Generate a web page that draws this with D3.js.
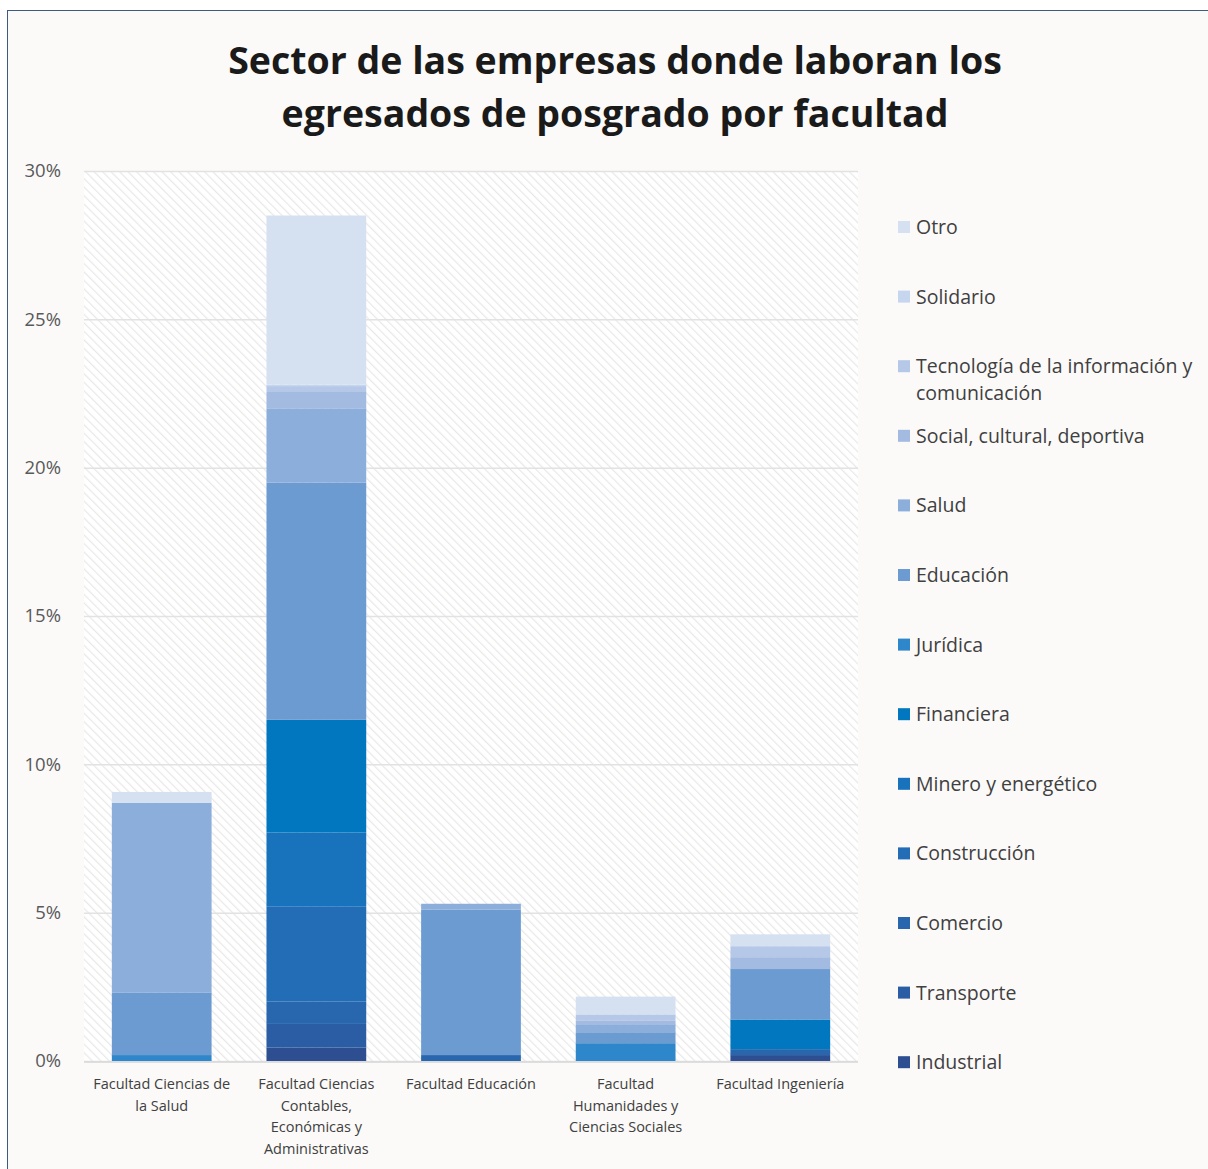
<!DOCTYPE html>
<html>
<head>
<meta charset="utf-8">
<script src="https://cdn.jsdelivr.net/npm/d3@7"></script>
<style>
  body { margin: 0; background: #fff; }
  text { font-family: "Open Sans", "Noto Sans", sans-serif; }
</style>
</head>
<body>
<div id="chart"></div>
<script>
// facultades (eje x)
const facultades = [
  ['Facultad Ciencias de', 'la Salud'],
  ['Facultad Ciencias', 'Contables,', 'Económicas y', 'Administrativas'],
  ['Facultad Educación'],
  ['Facultad', 'Humanidades y', 'Ciencias Sociales'],
  ['Facultad Ingeniería']
];
// sectores, de abajo hacia arriba
const sectores = ['Industrial', 'Transporte', 'Comercio', 'Construcción', 'Minero y energético',
  'Financiera', 'Jurídica', 'Educación', 'Salud', 'Social, cultural, deportiva',
  'Tecnología de la información y comunicación', 'Solidario', 'Otro'];
const colores = ['#2D4F92', '#2A5DA4', '#2866AE', '#226DB6', '#1973BC',
  '#0077BE', '#2E87CA', '#6C9BD2', '#8BAEDB', '#A3BBE1',
  '#B6C8E8', '#C7D6EF', '#D5E0F1'];
// porcentaje por sector (mismo orden que sectores), una lista por facultad
const salud = [0, 0, 0, 0, 0, 0, 0.2, 2.1, 6.4, 0, 0, 0, 0.37];
const contables = [0.45, 0.8, 0.75, 3.2, 2.5, 3.8, 0, 8.0, 2.5, 0.55, 0.2, 0.05, 5.7];
const educacion = [0, 0, 0.2, 0, 0, 0, 0, 4.9, 0.2, 0, 0, 0, 0];
const humanidades = [0, 0, 0, 0, 0, 0, 0.6, 0.37, 0.27, 0.13, 0.2, 0, 0.6];
const ingenieria = [0.2, 0, 0.2, 0, 0, 1.0, 0, 1.7, 0, 0.4, 0.37, 0, 0.4];
const yTicks = [0, 5, 10, 15, 20, 25, 30];

const series = [salud, contables, educacion, humanidades, ingenieria];
const W = 1208, H = 1169;
const margin = { left: 84, right: 350, top: 171, bottom: 108 };

const svg = d3.select('#chart').append('svg')
  .attr('width', W)
  .attr('height', H);

// marco
svg.append('rect')
  .attr('x', 7.5).attr('y', 10.5)
  .attr('width', W).attr('height', H)
  .attr('fill', '#FBFAF9')
  .attr('stroke', '#3D5A80')
  .attr('stroke-width', 1);

// trama diagonal del fondo
const defs = svg.append('defs');
const pat = defs.append('pattern')
  .attr('id', 'hatch')
  .attr('patternUnits', 'userSpaceOnUse')
  .attr('width', 6).attr('height', 6)
  .attr('patternTransform', 'rotate(-45)');
pat.append('rect').attr('width', 6).attr('height', 6).attr('fill', '#FFFFFF');
pat.append('line')
  .attr('x1', 0).attr('y1', 0).attr('x2', 0).attr('y2', 6)
  .attr('stroke', '#E9E8E7').attr('stroke-width', 2.4);

// titulo
svg.append('text')
  .attr('x', 615).attr('y', 74)
  .attr('text-anchor', 'middle')
  .attr('font-size', '37.5px').attr('font-weight', 700)
  .attr('fill', '#1A1A1A')
  .text('Sector de las empresas donde laboran los');
svg.append('text')
  .attr('x', 615).attr('y', 127)
  .attr('text-anchor', 'middle')
  .attr('font-size', '37.5px').attr('font-weight', 700)
  .attr('fill', '#1A1A1A')
  .text('egresados de posgrado por facultad');

const width = 858 - margin.left;
const height = 1061 - margin.top;
const g = svg.append('g').attr('transform', `translate(${margin.left},${margin.top})`);

const x = d3.scaleBand()
  .domain(d3.range(facultades.length))
  .range([0, width])
  .paddingInner(0.355)
  .paddingOuter(0.18);
const y = d3.scaleLinear().domain([0, 30]).range([height, 0]);

g.append('rect')
  .attr('width', width).attr('height', height)
  .attr('fill', 'url(#hatch)');

// lineas de cuadricula
g.append('g')
  .call(d3.axisLeft(y).tickValues(yTicks).tickSize(-width).tickFormat(''))
  .call(s => s.select('.domain').remove())
  .call(s => s.selectAll('line').attr('stroke', '#E2E2E2').attr('stroke-width', 1.5));

// eje y
g.append('g')
  .attr('transform', 'translate(-20,0)')
  .call(d3.axisLeft(y).tickValues(yTicks).tickSize(0).tickFormat(d => `${d}%`))
  .call(s => s.select('.domain').remove())
  .call(s => s.selectAll('text')
    .attr('font-size', '18.5px')
    .attr('fill', '#595959')
    .style('font-family', '"Open Sans", sans-serif'));

// barras apiladas
const rows = series.map((vals, i) => {
  const r = { i };
  sectores.forEach((s, k) => { r[s] = vals[k]; });
  return r;
});
const stack = d3.stack().keys(sectores)(rows);
const color = d3.scaleOrdinal().domain(sectores).range(colores);

g.selectAll('.layer')
  .data(stack)
  .enter()
  .append('g')
  .attr('class', 'layer')
  .attr('fill', d => color(d.key))
  .selectAll('rect')
  .data(d => d.filter(p => p[1] - p[0] > 0))
  .enter()
  .append('rect')
  .attr('x', d => x(d.data.i))
  .attr('width', x.bandwidth())
  .attr('y', d => y(d[1]))
  .attr('height', d => y(d[0]) - y(d[1]));

// linea base
g.append('line')
  .attr('x1', 0).attr('x2', width)
  .attr('y1', height + 1).attr('y2', height + 1)
  .attr('stroke', '#D9D9D9').attr('stroke-width', 1.5);

// etiquetas del eje x
const xl = g.append('g').attr('class', 'axis axis--x');
facultades.forEach((lines, i) => {
  const t = xl.append('text')
    .attr('x', x(i) + x.bandwidth() / 2)
    .attr('y', height + 28)
    .attr('text-anchor', 'middle')
    .attr('font-size', '14.5px')
    .attr('fill', '#404040');
  lines.forEach((l, j) => {
    t.append('tspan')
      .attr('x', x(i) + x.bandwidth() / 2)
      .attr('dy', j === 0 ? 0 : 21.5)
      .text(l);
  });
});

// leyenda (de arriba hacia abajo: Otro ... Industrial)
const legendItems = sectores.slice().reverse();
const legend = svg.append('g').attr('transform', 'translate(898,227)');
legendItems.forEach((s, i) => {
  const item = legend.append('g').attr('transform', `translate(0,${i * 69.6})`);
  item.append('rect')
    .attr('x', 0).attr('y', -6)
    .attr('width', 12).attr('height', 12)
    .attr('fill', color(s));
  const t = item.append('text')
    .attr('x', 18).attr('y', 7)
    .attr('font-size', '19.5px')
    .attr('fill', '#404040');
  if (s.startsWith('Tecnología')) {
    t.append('tspan').attr('x', 18).text('Tecnología de la información y');
    t.append('tspan').attr('x', 18).attr('dy', 27).text('comunicación');
  } else {
    t.text(s);
  }
});
</script>
</body>
</html>
